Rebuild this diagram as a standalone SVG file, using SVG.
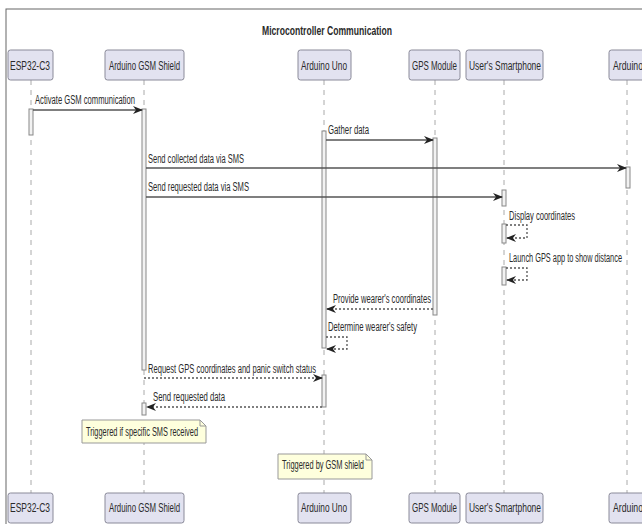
<svg xmlns="http://www.w3.org/2000/svg" width="642" height="524" viewBox="0 0 642 524">
<style>
text{font-family:"Liberation Sans",Arial,sans-serif;font-size:12px;fill:#2a2a2a}
.title{font-weight:bold}
.pbox{fill:#E2E2F0;stroke:#8a8a99;stroke-width:1}
.life{stroke:#aaa;stroke-width:1;stroke-dasharray:5 5;fill:none}
.act{fill:#f2f2f2;stroke:#888;stroke-width:1}
.msg{stroke:#555;stroke-width:1.3;fill:none}
.ret{stroke:#555;stroke-width:1.3;fill:none;stroke-dasharray:2 2}
.note{fill:#FEFFDD;stroke:#999;stroke-width:1}
</style>
<defs>
<marker id="ah" markerWidth="10" markerHeight="8" refX="9" refY="4" orient="auto" markerUnits="userSpaceOnUse">
<path d="M0,0 L10,4 L0,8 L3,4 Z" fill="#222"/>
</marker>
</defs>
<rect x="0" y="0" width="642" height="524" fill="#fff"/>
<rect x="6" y="9" width="700" height="600" fill="none" stroke="#666" stroke-width="1"/>
<text class="title" x="262" y="35" textLength="130" lengthAdjust="spacingAndGlyphs">Microcontroller Communication</text>

<g id="lifelines">
<line class="life" x1="31" y1="80" x2="31" y2="493"/>
<line class="life" x1="144" y1="80" x2="144" y2="493"/>
<line class="life" x1="324" y1="80" x2="324" y2="493"/>
<line class="life" x1="435" y1="80" x2="435" y2="493"/>
<line class="life" x1="504" y1="80" x2="504" y2="493"/>
<line class="life" x1="627" y1="80" x2="627" y2="493"/>
</g>

<g id="p-esp32">
<rect class="pbox" x="8" y="50" width="45" height="30" rx="2.5"/>
<text x="10" y="70" textLength="40" lengthAdjust="spacingAndGlyphs">ESP32-C3</text>
<rect class="pbox" x="8" y="493" width="45" height="30" rx="2.5"/>
<text x="10" y="512" textLength="40" lengthAdjust="spacingAndGlyphs">ESP32-C3</text>
</g>
<g id="p-gsm">
<rect class="pbox" x="105" y="50" width="79" height="30" rx="2.5"/>
<text x="109" y="70" textLength="71" lengthAdjust="spacingAndGlyphs">Arduino GSM Shield</text>
<rect class="pbox" x="105" y="493" width="79" height="30" rx="2.5"/>
<text x="109" y="512" textLength="71" lengthAdjust="spacingAndGlyphs">Arduino GSM Shield</text>
</g>
<g id="p-uno">
<rect class="pbox" x="298" y="50" width="53" height="30" rx="2.5"/>
<text x="301" y="70" textLength="46" lengthAdjust="spacingAndGlyphs">Arduino Uno</text>
<rect class="pbox" x="298" y="493" width="53" height="30" rx="2.5"/>
<text x="301" y="512" textLength="46" lengthAdjust="spacingAndGlyphs">Arduino Uno</text>
</g>
<g id="p-gps">
<rect class="pbox" x="409" y="50" width="51" height="30" rx="2.5"/>
<text x="412" y="70" textLength="45" lengthAdjust="spacingAndGlyphs">GPS Module</text>
<rect class="pbox" x="409" y="493" width="51" height="30" rx="2.5"/>
<text x="412" y="512" textLength="45" lengthAdjust="spacingAndGlyphs">GPS Module</text>
</g>
<g id="p-phone">
<rect class="pbox" x="466" y="50" width="77" height="30" rx="2.5"/>
<text x="469" y="70" textLength="72" lengthAdjust="spacingAndGlyphs">User's Smartphone</text>
<rect class="pbox" x="466" y="493" width="77" height="30" rx="2.5"/>
<text x="469" y="512" textLength="72" lengthAdjust="spacingAndGlyphs">User's Smartphone</text>
</g>
<g id="p-arduino">
<rect class="pbox" x="609" y="50" width="40" height="30" rx="2.5"/>
<text x="613" y="70" textLength="30" lengthAdjust="spacingAndGlyphs">Arduino</text>
<rect class="pbox" x="609" y="493" width="40" height="30" rx="2.5"/>
<text x="613" y="512" textLength="30" lengthAdjust="spacingAndGlyphs">Arduino</text>
</g>

<g id="activations">
<rect class="act" x="29" y="109" width="4" height="26"/>
<rect class="act" x="142" y="109" width="4" height="261"/>
<rect class="act" x="322" y="131" width="4" height="217"/>
<rect class="act" x="433" y="138" width="4" height="177"/>
<rect class="act" x="626" y="167" width="4" height="21"/>
<rect class="act" x="502" y="190" width="4" height="16"/>
<rect class="act" x="502" y="224" width="4" height="19"/>
<rect class="act" x="502" y="267" width="4" height="18"/>
<rect class="act" x="322" y="375" width="4" height="32"/>
<rect class="act" x="142" y="403" width="4" height="12"/>
</g>

<g id="connectors">
<line class="msg" x1="33" y1="110" x2="142" y2="110" marker-end="url(#ah)"/>
<text x="35" y="104" textLength="100" lengthAdjust="spacingAndGlyphs">Activate GSM communication</text>

<line class="msg" x1="326" y1="140" x2="433" y2="140" marker-end="url(#ah)"/>
<text x="328" y="134" textLength="41" lengthAdjust="spacingAndGlyphs">Gather data</text>

<line class="msg" x1="146" y1="168" x2="626" y2="168" marker-end="url(#ah)"/>
<text x="148" y="163" textLength="96" lengthAdjust="spacingAndGlyphs">Send collected data via SMS</text>

<line class="msg" x1="146" y1="197" x2="502" y2="197" marker-end="url(#ah)"/>
<text x="148" y="191" textLength="101" lengthAdjust="spacingAndGlyphs">Send requested data via SMS</text>

<polyline class="ret" points="506,225 527,225 527,238 507,238" marker-end="url(#ah)"/>
<text x="509" y="220" textLength="66" lengthAdjust="spacingAndGlyphs">Display coordinates</text>

<polyline class="ret" points="506,268 527,268 527,280 507,280" marker-end="url(#ah)"/>
<text x="509" y="262" textLength="113" lengthAdjust="spacingAndGlyphs">Launch GPS app to show distance</text>

<line class="ret" x1="433" y1="309" x2="327" y2="309" marker-end="url(#ah)"/>
<text x="333" y="303" textLength="98" lengthAdjust="spacingAndGlyphs">Provide wearer's coordinates</text>

<polyline class="ret" points="326,337 347,337 347,349 327,349" marker-end="url(#ah)"/>
<text x="328" y="331" textLength="89" lengthAdjust="spacingAndGlyphs">Determine wearer's safety</text>

<line class="ret" x1="144" y1="378" x2="322" y2="378" marker-end="url(#ah)"/>
<text x="148" y="373" textLength="168" lengthAdjust="spacingAndGlyphs">Request GPS coordinates and panic switch status</text>

<line class="ret" x1="322" y1="407" x2="147" y2="407" marker-end="url(#ah)"/>
<text x="153" y="401" textLength="72" lengthAdjust="spacingAndGlyphs">Send requested data</text>
</g>

<g id="note-sms">
<path class="note" d="M82,420 L200,420 L206,426 L206,443 L82,443 Z"/>
<path d="M200,420 L200,426 L206,426" fill="none" stroke="#999" stroke-width="1"/>
<text x="86" y="436" textLength="112" lengthAdjust="spacingAndGlyphs">Triggered if specific SMS received</text>
</g>
<g id="note-gsm">
<path class="note" d="M278,454 L366,454 L372,460 L372,479 L278,479 Z"/>
<path d="M366,454 L366,460 L372,460" fill="none" stroke="#999" stroke-width="1"/>
<text x="282" y="469" textLength="82" lengthAdjust="spacingAndGlyphs">Triggered by GSM shield</text>
</g>
</svg>
